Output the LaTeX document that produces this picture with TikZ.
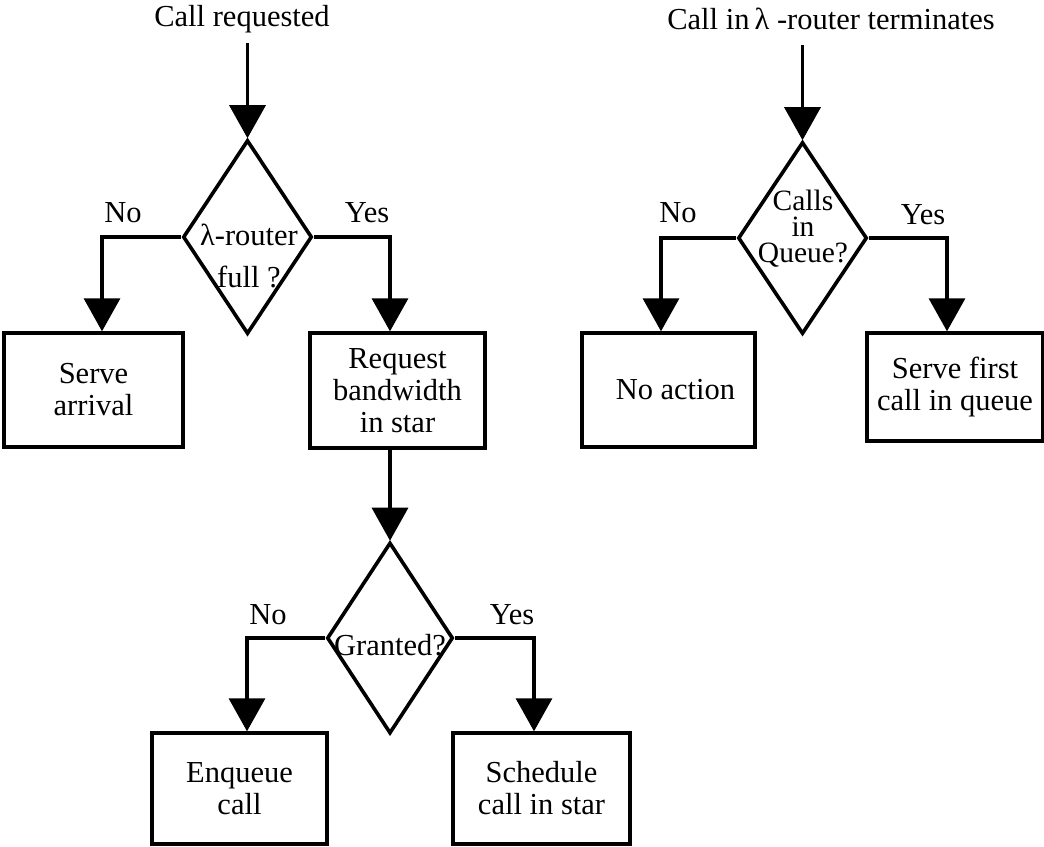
\documentclass[tikz,border=0pt]{standalone}
\usepackage{fontspec}
\setmainfont{Liberation Serif}
\usetikzlibrary{arrows.meta,shapes.geometric}
\begin{document}
\begin{tikzpicture}[x=1pt,y=-1pt,
  every node/.style={font=\fontsize{30.5}{32}\selectfont},
  flow/.style={line width=3.4pt},
  arr/.style={flow,-{Triangle[width=36pt,length=33pt]}},
  box/.style={draw,line width=3.4pt,rectangle,align=center,inner sep=0pt},
  decision/.style={draw,line width=3.6pt,diamond,inner sep=0pt},
  caption/.style={inner sep=0pt,align=center}]
\useasboundingbox (0,0) rectangle (1044,846);

% ---- left flow: call arrival ----
\node[caption] (t1) at (242,19) {Call requested};
\coordinate (s1) at (247.5,43);
\node[decision,minimum width=129pt,minimum height=194pt] (d1) at (247.5,237) {};
\node[caption] (d1t) at (249,256) {λ-router\\[10pt]full ?};
\node[box,minimum width=179pt,minimum height=114pt] (b1) at (93.5,390) {Serve\\arrival};
\node[box,minimum width=175pt,minimum height=115pt] (b2) at (397.5,390.5) {Request\\bandwidth\\in star};
\node[decision,minimum width=126pt,minimum height=191pt] (d2) at (390,638) {};
\node[caption] (d2t) at (390,645) {Granted?};
\node[box,minimum width=175pt,minimum height=111pt] (b3) at (239.5,788.5) {Enqueue\\call};
\node[box,minimum width=177pt,minimum height=111pt] (b4) at (541.5,788.5) {Schedule\\call in star};

\node[caption] (n1) at (123,213) {No};
\node[caption] (y1) at (367,213) {Yes};
\node[caption] (n2) at (268,615) {No};
\node[caption] (y2) at (512,615) {Yes};

\draw[arr] (s1) -- (d1.north);
\draw[arr] (d1.west) -| ([xshift=8.5pt]b1.north);
\draw[arr] (d1.east) -| ([xshift=-7.5pt]b2.north);
\draw[arr] (b2.south -| d2.north) -- (d2.north);
\draw[arr] (d2.west) -| ([xshift=7.5pt]b3.north);
\draw[arr] (d2.east) -| ([xshift=-7.5pt]b4.north);

% ---- right flow: call termination ----
\node[caption] (t2) at (831,19) {Call in\,λ -router terminates};
\coordinate (s2) at (802.5,45);
\node[decision,minimum width=129pt,minimum height=192pt] (d3) at (802.5,238) {};
\node[caption,font=\fontsize{29.5}{26}\selectfont] (d3t) at (803,229) {Calls\\in\\Queue?};
\node[box,minimum width=173pt,minimum height=114pt] (b5) at (668.5,390) {\hspace*{14pt}No action};
\node[box,minimum width=176pt,minimum height=108pt] (b6) at (955,387) {Serve first\\call in queue};

\node[caption] (n3) at (678,213) {No};
\node[caption] (y3) at (923,215) {Yes};

\draw[arr] (s2) -- (d3.north);
\draw[arr] (d3.west) -| ([xshift=-7.5pt]b5.north);
\draw[arr] (d3.east) -| ([xshift=-8pt]b6.north);
\end{tikzpicture}
\end{document}
